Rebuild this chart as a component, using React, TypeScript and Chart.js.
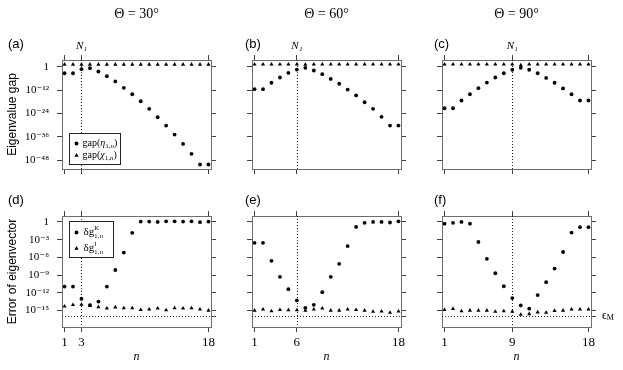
import React, { useEffect, useRef } from 'react';
import { Chart, registerables } from 'chart.js';
Chart.register(...registerables);

// ---------- data ----------
const nValues = [1, 2, 3, 4, 5, 6, 7, 8, 9, 10, 11, 12, 13, 14, 15, 16, 17, 18];
const thetaTitles = ['Θ = 30°', 'Θ = 60°', 'Θ = 90°'];
const N1 = [3, 6, 9];
const panelTags = [['(a)', '(b)', '(c)'], ['(d)', '(e)', '(f)']];
const yTitles = ['Eigenvalue gap', 'Error of eigenvector'];
const topTickExps = [0, -12, -24, -36, -48];
const bottomTickExps = [0, -3, -6, -9, -12, -15];
const epsM = 1.11e-16;

// log10 values
const gapEta30 = [-3.3, -3.3, -1.2, -0.7, -2.4, -4.8, -7.5, -10.8, -14.1, -17.7, -21.6, -25.9, -30.2, -34.8, -39.6, -44.7, -50.2, -50.2];
const gapChi30 = [1.2, 1.2, 1.2, 1.2, 1.2, 1.2, 1.2, 1.2, 1.2, 1.2, 1.2, 1.2, 1.2, 1.2, 1.2, 1.2, 1.2, 1.2];
const gapEta60 = [-11.5, -11.5, -8.2, -5.5, -3.1, -1.4, -0.5, -1.9, -3.8, -6.2, -8.7, -11.7, -14.7, -18.2, -21.6, -25.7, -30.2, -30.2];
const gapChi60 = [1.3, 1.3, 1.3, 1.3, 1.3, 1.3, 1.1, 1.3, 1.3, 1.3, 1.3, 1.3, 1.3, 1.3, 1.3, 1.3, 1.3, 1.3];
const gapEta90 = [-21.3, -21.3, -17.3, -14.1, -11.0, -8.1, -5.5, -3.3, -1.5, -0.5, -1.5, -3.3, -5.7, -8.2, -11.1, -14.1, -17.3, -17.3];
const gapChi90 = [1.3, 1.3, 1.3, 1.3, 1.3, 1.3, 1.3, 1.3, 1.3, 0.8, 1.3, 1.3, 1.3, 1.3, 1.3, 1.3, 1.3, 1.3];

const errK30 = [-10.95, -10.95, -13.0, -14.1, -13.5, -10.95, -8.15, -5.2, -1.85, 0.05, 0.05, 0, 0.1, 0.1, 0.05, 0.1, -0.05, 0.05];
const errI30 = [-14.3, -14.05, -14.0, -14.15, -14.4, -14.65, -14.45, -14.6, -14.6, -14.9, -14.8, -14.65, -14.95, -14.6, -14.65, -14.6, -14.8, -15.0];
const errK60 = [-3.55, -3.55, -6.6, -9.3, -11.4, -13.3, -14.55, -14.05, -11.9, -9.3, -7.1, -4.1, -0.85, -0.15, 0, 0, -0.1, 0.1];
const errI60 = [-15.0, -14.8, -15.1, -14.9, -14.95, -14.95, -15.0, -14.8, -14.65, -15.0, -15.0, -14.8, -14.9, -15.0, -15.2, -15.15, -15.35, -15.15];
const errK90 = [-0.3, -0.15, 0, -0.3, -3.4, -6.25, -8.7, -10.9, -12.9, -14.15, -14.7, -12.4, -10.2, -7.9, -5.1, -1.8, -0.9, -0.9];
const errI90 = [-14.9, -14.7, -15.1, -15.0, -15.0, -15.0, -15.2, -15.1, -15.2, -15.7, -15.6, -15.3, -15.35, -15.05, -15.0, -14.8, -14.8, -14.8];

const SERIES = [
  [[gapEta30, gapChi30], [gapEta60, gapChi60], [gapEta90, gapChi90]],
  [[errK30, errI30], [errK60, errI60], [errK90, errI90]],
];

// ---------- layout ----------
const W = 623, H = 370;
const BOX_L = [62, 252, 442];
const BOX_W = 149;
const BOX_T = [60, 216];
const BOX_B = [169, 327];
const X_MIN = 0.7, X_MAX = 18.3;
const Y_RANGE = [[-52.5, 3.5], [-17.8, 1.0]];
const TAG_X = [8, 245, 434];
const BOX_COLOR = '#6e6e6e';
const TICK_COLOR = '#404040';
const SERIF = '"Liberation Serif", "DejaVu Serif", serif';
const SANS = '"Liberation Sans", Arial, sans-serif';

const SUP: Record<string, string> = { '-': '⁻', '0': '⁰', '1': '¹', '2': '²', '3': '³', '4': '⁴', '5': '⁵', '6': '⁶', '7': '⁷', '8': '⁸', '9': '⁹' };
const sup = (e: number) => String(e).split('').map((ch) => SUP[ch]).join('');

type Seg = { t: string; size: number; dy?: number; italic?: boolean; stack?: boolean };
function drawRich(ctx: CanvasRenderingContext2D, x: number, y: number, segs: Seg[]) {
  let cx = x;
  let lastStart = x;
  for (const s of segs) {
    ctx.font = `${s.italic ? 'italic ' : ''}${s.size}px ${SERIF}`;
    const w = ctx.measureText(s.t).width;
    const sx = s.stack ? lastStart : cx;
    ctx.fillText(s.t, sx, y + (s.dy || 0));
    if (s.stack) {
      cx = Math.max(cx, sx + w);
    } else {
      lastStart = cx;
      cx = cx + w;
    }
  }
  return cx;
}

function drawMarker(ctx: CanvasRenderingContext2D, kind: 'circle' | 'triangle', x: number, y: number) {
  ctx.beginPath();
  if (kind === 'circle') {
    ctx.arc(x, y, 1.9, 0, Math.PI * 2);
  } else {
    const r = 2.4;
    ctx.moveTo(x, y - r);
    ctx.lineTo(x + r * 0.866, y + r * 0.5);
    ctx.lineTo(x - r * 0.866, y + r * 0.5);
    ctx.closePath();
  }
  ctx.fill();
}

function makeConfig(r: number, c: number): any {
  const left = BOX_L[c];
  const right = BOX_L[c] + BOX_W;
  const top = BOX_T[r];
  const bottom = BOX_B[r];
  const [lo, hi] = Y_RANGE[r];
  const tickExps = r === 0 ? topTickExps : bottomTickExps;
  const tickVals = tickExps.map((e) => Math.pow(10, e));
  const rightVals = r === 1 ? [...tickVals, epsM] : tickVals;
  const xTicks = [1, N1[c], 18];
  const [main, second] = SERIES[r][c];

  const gridOpts = { drawOnChartArea: false, drawTicks: true, tickLength: 5, color: TICK_COLOR, lineWidth: 1 };
  const borderOpts = { display: true, color: BOX_COLOR, width: 1 };

  const decor = {
    id: 'decor',
    beforeDatasetsDraw(chart: any) {
      const { ctx, chartArea: a, scales } = chart;
      ctx.save();
      ctx.strokeStyle = '#222';
      ctx.lineWidth = 1;
      ctx.setLineDash([1, 2]);
      const xp = Math.round(scales.x.getPixelForValue(N1[c])) + 0.5;
      ctx.beginPath();
      ctx.moveTo(xp, a.top);
      ctx.lineTo(xp, a.bottom);
      ctx.stroke();
      if (r === 1) {
        const yp = Math.round(scales.y.getPixelForValue(epsM)) + 0.5;
        ctx.beginPath();
        ctx.moveTo(a.left, yp);
        ctx.lineTo(a.right, yp);
        ctx.stroke();
      }
      ctx.restore();
    },
    afterDraw(chart: any) {
      const { ctx, chartArea: a, scales } = chart;
      ctx.save();
      ctx.fillStyle = '#000';
      ctx.textBaseline = 'middle';
      if (r === 0) {
        ctx.font = `14px ${SERIF}`;
        ctx.textAlign = 'center';
        ctx.fillText(thetaTitles[c], (a.left + a.right) / 2, 14);
      }
      ctx.font = `13px ${SANS}`;
      ctx.textAlign = 'left';
      ctx.fillText(panelTags[r][c], TAG_X[c], a.top - 16);

      if (c === 0 && r === 0) {
        const lx = a.left + 7.5, ly = a.bottom - 35.5, lw = 51, lh = 31;
        ctx.fillStyle = '#fff';
        ctx.fillRect(lx, ly, lw, lh);
        ctx.strokeStyle = '#222';
        ctx.lineWidth = 1;
        ctx.strokeRect(lx, ly, lw, lh);
        ctx.fillStyle = '#000';
        const y1 = ly + 10, y2 = ly + 22;
        drawMarker(ctx, 'circle', lx + 7, y1);
        drawMarker(ctx, 'triangle', lx + 7, y2);
        ctx.textAlign = 'left';
        drawRich(ctx, lx + 13, y1, [
          { t: 'gap(', size: 10 }, { t: 'η', size: 10, italic: true },
          { t: '1,', size: 7, dy: 2.5 }, { t: 'n', size: 7, dy: 2.5, italic: true }, { t: ')', size: 10 },
        ]);
        drawRich(ctx, lx + 13, y2, [
          { t: 'gap(', size: 10 }, { t: 'χ', size: 10, italic: true },
          { t: '1,', size: 7, dy: 2.5 }, { t: 'n', size: 7, dy: 2.5, italic: true }, { t: ')', size: 10 },
        ]);
      }
      if (c === 0 && r === 1) {
        const lx = a.left + 7.5, ly = a.top + 5.5, lw = 44, lh = 36;
        ctx.fillStyle = '#fff';
        ctx.fillRect(lx, ly, lw, lh);
        ctx.strokeStyle = '#222';
        ctx.lineWidth = 1;
        ctx.strokeRect(lx, ly, lw, lh);
        ctx.fillStyle = '#000';
        const y1 = ly + 11, y2 = ly + 27;
        drawMarker(ctx, 'circle', lx + 7, y1);
        drawMarker(ctx, 'triangle', lx + 7, y2);
        ctx.textAlign = 'left';
        drawRich(ctx, lx + 14, y1, [
          { t: 'δg', size: 11 }, { t: 'K', size: 6.5, dy: -4.5 }, { t: '1,', size: 6.5, dy: 4, stack: true },
        ]);
        drawRich(ctx, lx + 14 + 11.2 + 5, y1 + 4, [{ t: 'n', size: 6.5, italic: true }]);
        drawRich(ctx, lx + 14, y2, [
          { t: 'δg', size: 11 }, { t: 'I', size: 6.5, dy: -4.5 }, { t: '1,', size: 6.5, dy: 4, stack: true },
        ]);
        drawRich(ctx, lx + 14 + 11.2 + 5, y2 + 4, [{ t: 'n', size: 6.5, italic: true }]);
      }
      if (r === 1 && c === 2) {
        const yp = scales.y.getPixelForValue(epsM);
        ctx.textAlign = 'left';
        drawRich(ctx, a.right + 11, yp, [{ t: 'ϵ', size: 12 }, { t: 'M', size: 8, dy: 2 }]);
      }
      ctx.restore();
    },
  };

  return {
    type: 'scatter',
    data: {
      datasets: [
        {
          data: nValues.map((n, i) => ({ x: n, y: Math.pow(10, main[i]) })),
          pointStyle: 'circle', pointRadius: 1.9, pointBorderWidth: 0,
          backgroundColor: '#000', borderColor: '#000', showLine: false,
        },
        {
          data: nValues.map((n, i) => ({ x: n, y: Math.pow(10, second[i]) })),
          pointStyle: 'triangle', pointRadius: 2.4, pointBorderWidth: 0,
          backgroundColor: '#000', borderColor: '#000', showLine: false,
        },
      ],
    },
    options: {
      responsive: false,
      animation: false,
      devicePixelRatio: 1,
      events: [],
      layout: { padding: 0 },
      plugins: { legend: { display: false }, tooltip: { enabled: false }, title: { display: false } },
      scales: {
        x: {
          type: 'linear', position: 'bottom', min: X_MIN, max: X_MAX, bounds: 'data',
          afterBuildTicks: (s: any) => { s.ticks = xTicks.map((v) => ({ value: v })); },
          afterFit: (s: any) => { s.height = H - bottom; },
          ticks: {
            display: r === 1, autoSkip: false, maxRotation: 0, padding: 3,
            callback: (v: any) => String(v), color: '#000', font: { family: SERIF, size: 13 },
          },
          grid: gridOpts, border: borderOpts,
          title: { display: r === 1, text: 'n', color: '#000', font: { family: SERIF, size: 12, style: 'italic' }, padding: { top: 0, bottom: 6 } },
        },
        x2: {
          type: 'linear', position: 'top', min: X_MIN, max: X_MAX, bounds: 'data',
          afterBuildTicks: (s: any) => { s.ticks = xTicks.map((v) => ({ value: v })); },
          afterFit: (s: any) => { s.height = top; },
          ticks: {
            display: r === 0, autoSkip: false, maxRotation: 0, padding: 2,
            callback: (v: any) => (v === N1[c] ? 'N₁' : ''), color: '#000',
            font: { family: SERIF, size: 11, style: 'italic' },
          },
          grid: gridOpts, border: borderOpts,
        },
        y: {
          type: 'logarithmic', position: 'left', min: Math.pow(10, lo), max: Math.pow(10, hi), bounds: 'data',
          afterBuildTicks: (s: any) => { s.ticks = tickVals.map((v) => ({ value: v })); },
          afterFit: (s: any) => { s.width = left; },
          ticks: {
            display: c === 0, autoSkip: false, padding: 8, color: '#000',
            font: { family: SERIF, size: 11 },
            callback: (v: any) => {
              const e = Math.round(Math.log10(v));
              return e === 0 ? '1' : '10' + sup(e);
            },
          },
          grid: gridOpts, border: borderOpts,
          title: { display: c === 0, text: yTitles[r], color: '#000', font: { family: SANS, size: 12 }, padding: { top: 5, bottom: 0 } },
        },
        y2: {
          type: 'logarithmic', position: 'right', min: Math.pow(10, lo), max: Math.pow(10, hi), bounds: 'data',
          afterBuildTicks: (s: any) => { s.ticks = rightVals.map((v) => ({ value: v })); },
          afterFit: (s: any) => { s.width = W - right; },
          ticks: { display: false, autoSkip: false },
          grid: gridOpts, border: borderOpts,
        },
      },
    },
    plugins: [decor],
  };
}

function Panel({ r, c }: { r: number; c: number }) {
  const ref = useRef<HTMLCanvasElement>(null);
  useEffect(() => {
    const chart = new Chart(ref.current as HTMLCanvasElement, makeConfig(r, c));
    return () => chart.destroy();
  }, [r, c]);
  return (
    <canvas
      ref={ref}
      width={W}
      height={H}
      style={{ position: 'absolute', left: 0, top: 0, width: W, height: H }}
    />
  );
}

export default function App() {
  const panels: [number, number][] = [];
  for (let r = 0; r < 2; r++) for (let c = 0; c < 3; c++) panels.push([r, c]);
  return (
    <div style={{ position: 'absolute', left: 0, top: 0, width: W, height: H, background: '#fff', overflow: 'hidden' }}>
      {panels.map(([r, c]) => (
        <Panel key={`${r}-${c}`} r={r} c={c} />
      ))}
    </div>
  );
}
